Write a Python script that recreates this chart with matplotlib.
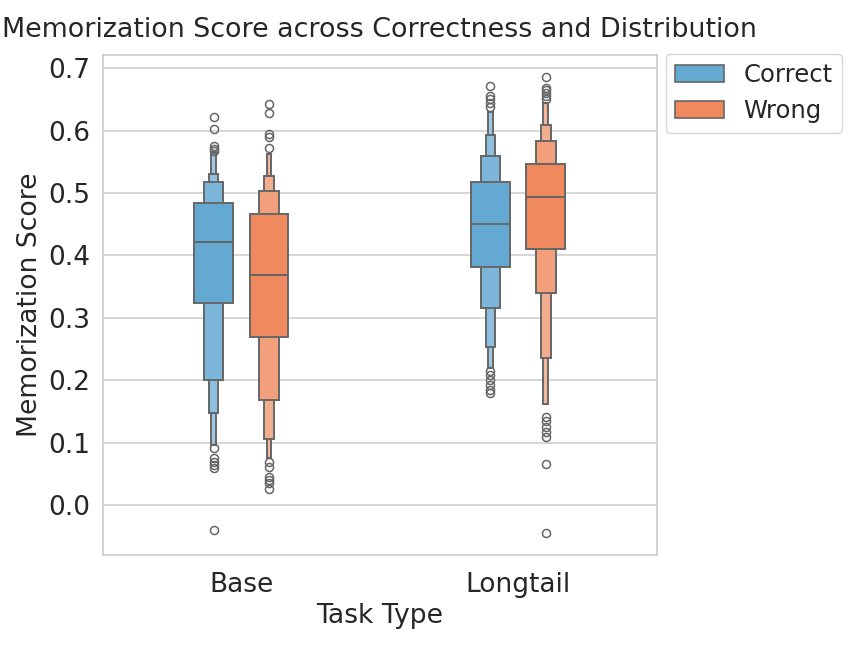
import numpy as np
import matplotlib.pyplot as plt

# letter-value boxes: (lower, upper) per depth, widest first
task_types = ['Base', 'Longtail']
hues = ['Correct', 'Wrong']

base_correct_lo = [0.323, 0.201, 0.148, 0.096]
base_correct_hi = [0.484, 0.517, 0.531, 0.565]
base_correct_med = 0.422
base_correct_out = [0.622, 0.603, 0.575, 0.571, 0.568, 0.092, 0.075, 0.069, 0.064, 0.060, -0.040]

base_wrong_lo = [0.269, 0.168, 0.106, 0.075]
base_wrong_hi = [0.467, 0.503, 0.528, 0.562]
base_wrong_med = 0.368
base_wrong_out = [0.642, 0.629, 0.594, 0.590, 0.572, 0.069, 0.061, 0.045, 0.040, 0.035, 0.026]

long_correct_lo = [0.381, 0.315, 0.254, 0.219]
long_correct_hi = [0.518, 0.560, 0.593, 0.630]
long_correct_med = 0.450
long_correct_out = [0.671, 0.655, 0.650, 0.644, 0.638, 0.215, 0.208, 0.200, 0.192, 0.184, 0.179]

long_wrong_lo = [0.410, 0.340, 0.236, 0.162]
long_wrong_hi = [0.546, 0.583, 0.609, 0.644]
long_wrong_med = 0.494
long_wrong_out = [0.686, 0.669, 0.665, 0.660, 0.656, 0.650, 0.141, 0.135, 0.125, 0.117, 0.109, 0.066, -0.045]

groups = {
    ('Base', 'Correct'): (base_correct_lo, base_correct_hi, base_correct_med, base_correct_out),
    ('Base', 'Wrong'): (base_wrong_lo, base_wrong_hi, base_wrong_med, base_wrong_out),
    ('Longtail', 'Correct'): (long_correct_lo, long_correct_hi, long_correct_med, long_correct_out),
    ('Longtail', 'Wrong'): (long_wrong_lo, long_wrong_hi, long_wrong_med, long_wrong_out),
}

level_colors = {
    'Correct': ['#64a9d2', '#7db6db', '#8fc0df', '#9ec8e3'],
    'Wrong': ['#f08a5e', '#f2a07c', '#f3ae90', '#f4b89e'],
}
edge = '#666666'
text_color = '#262626'

plt.rcParams['font.family'] = ['DejaVu Sans']
plt.rcParams['text.color'] = text_color
plt.rcParams['axes.labelcolor'] = text_color
plt.rcParams['xtick.color'] = text_color
plt.rcParams['ytick.color'] = text_color

fig = plt.figure(figsize=(8.64, 6.48), dpi=100)
ax = fig.add_axes([0.119, 0.1435, 0.641, 0.7715])

offsets = {'Correct': -0.1, 'Wrong': 0.1}
max_w = 0.14
for i, task in enumerate(task_types):
    for hue in hues:
        lo, hi, med, out = groups[(task, hue)]
        xc = i + offsets[hue]
        # narrowest first so the wider boxes sit on top
        for k in range(len(lo) - 1, -1, -1):
            w = max_w / (2 ** k)
            ax.bar(xc, hi[k] - lo[k], width=w, bottom=lo[k],
                   color=level_colors[hue][k], edgecolor=edge, linewidth=1.4, zorder=3 + (len(lo) - k))
        ax.plot([xc - max_w / 2, xc + max_w / 2], [med, med], color=edge, lw=1.4, zorder=10)
        ax.plot(np.full(len(out), xc), out, 'o', ms=5.8, mfc='none', mec=edge, mew=1.1, zorder=10)

ax.set_xlim(-0.5, 1.5)
ax.set_ylim(-0.08, 0.721)
ax.set_xticks(range(len(task_types)), task_types)
ax.set_yticks(np.arange(0, 0.71, 0.1))
ax.yaxis.set_major_formatter(plt.FormatStrFormatter('%.1f'))
ax.tick_params(axis='both', labelsize=19, length=0)
ax.tick_params(axis='x', pad=12)
ax.tick_params(axis='y', pad=9)
ax.grid(axis='y', color='#d0d0d0', lw=1.2, zorder=0)
ax.set_axisbelow(True)
for s in ax.spines.values():
    s.set_color('#cccccc')
    s.set_linewidth(1.2)

ax.set_xlabel('Task Type', fontsize=19.2, labelpad=4)
ax.set_ylabel('Memorization Score', fontsize=19.2)
ax.set_title('Memorization Score across Correctness and Distribution', fontsize=19.4, pad=13)

handles = [plt.Rectangle((0, 0), 1, 1, facecolor=level_colors[h][0], edgecolor=edge, lw=1.2) for h in hues]
leg = ax.legend(handles, hues, loc='upper left', bbox_to_anchor=(1.016, 1.003), fontsize=17.5,
                frameon=True, borderaxespad=0.0)
leg.get_frame().set_edgecolor('#cccccc')

fig.savefig('out.png', dpi=100)
